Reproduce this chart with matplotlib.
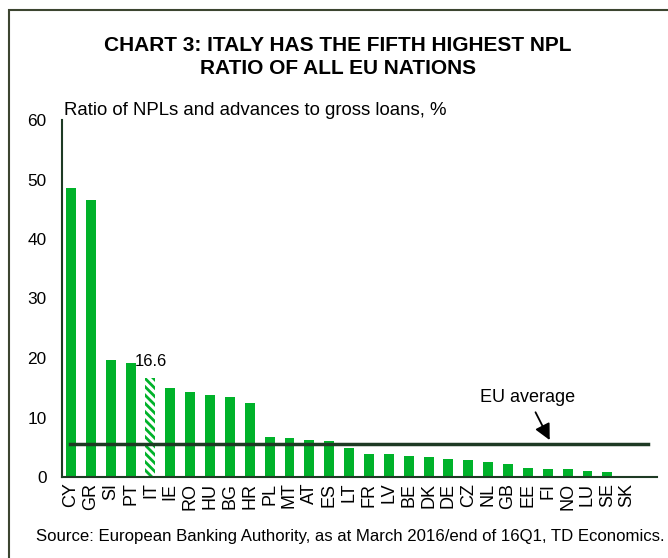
import matplotlib.pyplot as plt
from matplotlib.patches import Rectangle

plt.rcParams['font.family'] = ['Liberation Sans', 'DejaVu Sans']
plt.rcParams['hatch.linewidth'] = 2.0

# NPL ratio by country, %
countries = ['CY', 'GR', 'SI', 'PT', 'IT', 'IE', 'RO', 'HU', 'BG', 'HR',
             'PL', 'MT', 'AT', 'ES', 'LT', 'FR', 'LV', 'BE', 'DK', 'DE',
             'CZ', 'NL', 'GB', 'EE', 'FI', 'NO', 'LU', 'SE', 'SK']
npl = [48.6, 46.6, 19.7, 19.1, 16.6, 14.9, 14.3, 13.7, 13.5, 12.4,
       6.8, 6.55, 6.3, 6.1, 4.8, 3.9, 3.8, 3.6, 3.4, 3.0,
       2.8, 2.6, 2.2, 1.5, 1.4, 1.3, 1.0, 0.9, 0.0]
eu_avg = 5.6
highlight = 'IT'

green = '#00B22A'
dark = '#1E3A24'

fig = plt.figure(figsize=(6.68, 5.58), dpi=100)
ax = fig.add_axes([62 / 668, 1 - 477 / 558, 595 / 668, 357 / 558])

n = len(countries)
x = list(range(n))
for i, (c, v) in enumerate(zip(countries, npl)):
    if c == highlight:
        ax.bar(i, v, width=0.5, color='white', edgecolor=green,
               hatch='\\\\\\\\', linewidth=0)
        ax.text(i, v + 1.6, f'{v:.1f}', fontsize=12, ha='center',
                va='bottom')
    else:
        ax.bar(i, v, width=0.5, color=green, linewidth=0)

ax.plot([-0.05, n - 1 + 1.05], [eu_avg, eu_avg], color=dark, linewidth=2.5)
ax.annotate('EU average', xy=(24.1, eu_avg + 0.6), xytext=(23.0, 13.4),
            fontsize=13, ha='center', va='center',
            arrowprops=dict(arrowstyle='-|>', color='black', lw=1.3,
                            mutation_scale=24, shrinkA=3, shrinkB=0))

ax.set_xlim(-0.45, n - 1 + 1.5)
ax.set_ylim(0, 60)
ax.set_yticks(range(0, 61, 10))
ax.set_xticks(x)
ax.set_xticklabels(countries, rotation=90, fontsize=13)
ax.tick_params(axis='y', length=0, pad=11, labelsize=12.4)
ax.tick_params(axis='x', length=0, pad=4)
for s in ['top', 'right']:
    ax.spines[s].set_visible(False)
for s in ['left', 'bottom']:
    ax.spines[s].set_color(dark)
    ax.spines[s].set_linewidth(1.5)

ax.text(0.003, 60.2, 'Ratio of NPLs and advances to gross loans, %',
        fontsize=13.4, ha='left', va='bottom', transform=ax.get_yaxis_transform())

fig.text(338 / 668, 1 - 57 / 558,
         'CHART 3: ITALY HAS THE FIFTH HIGHEST NPL\nRATIO OF ALL EU NATIONS',
         ha='center', va='center', fontsize=15, fontweight='bold',
         linespacing=1.25)
fig.text(350 / 668, 1 - 536 / 558,
         'Source: European Banking Authority, as at March 2016/end of 16Q1, TD Economics.',
         ha='center', va='center', fontsize=12.1)

fig.patches.append(Rectangle((9 / 668, -0.05), 1.0, 1 - 10 / 558 + 0.05,
                             transform=fig.transFigure, fill=False,
                             edgecolor='#3C4530', linewidth=1.5))

fig.savefig('out.png', dpi=100)
